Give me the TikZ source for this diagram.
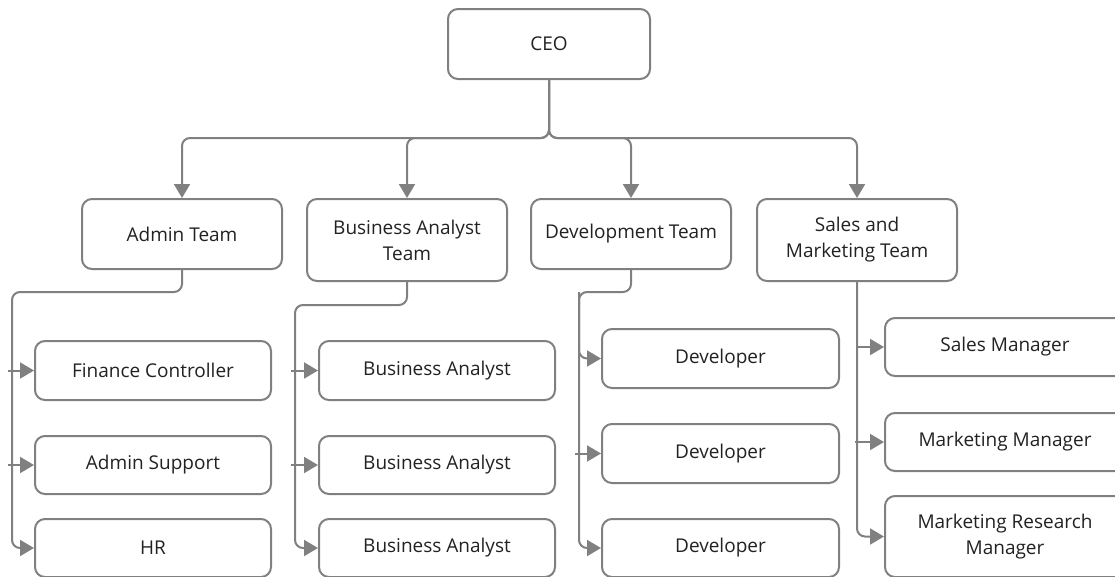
\documentclass[tikz,border=0pt]{standalone}
\usepackage{fontspec}
\setmainfont{Open Sans}
\usetikzlibrary{arrows.meta}
\definecolor{ln}{RGB}{128,128,128}
\definecolor{tx}{RGB}{34,34,34}
\tikzset{
  box/.style={draw=ln, line width=2pt, rounded corners=10pt, fill=white, text=tx,
    font=\fontsize{19}{26}\selectfont, align=center, inner sep=0pt},
  conn/.style={draw=ln, line width=2pt, rounded corners=8pt},
  arr/.style={conn, -{Triangle[length=14pt,width=16pt]}},
}
\begin{document}
\begin{tikzpicture}[x=1pt,y=-1pt]
\useasboundingbox (0,0) rectangle (1115,576);
% top
\node[box, minimum width=202pt, minimum height=70pt] (ceo) at (549,44) {CEO};
\node[box, minimum width=200pt, minimum height=70pt] (admin) at (182,234) {Admin Team};
\node[box, minimum width=200pt, minimum height=82pt] (bat) at (407,240) {Business Analyst\\Team};
\node[box, minimum width=200pt, minimum height=70pt] (dev) at (631,234) {Development Team};
\node[box, minimum width=200pt, minimum height=82pt] (smt) at (857,240) {Sales and\\Marketing Team};
% admin children
\node[box, minimum width=236pt, minimum height=59pt] (fin) at (153,370.5) {Finance Controller};
\node[box, minimum width=236pt, minimum height=58pt] (sup) at (153,465) {Admin Support};
\node[box, minimum width=236pt, minimum height=58pt] (hr) at (153,548) {HR};
% BA children
\node[box, minimum width=236pt, minimum height=59pt] (ba1) at (437,370.5) {Business Analyst};
\node[box, minimum width=236pt, minimum height=58pt] (ba2) at (437,465) {Business Analyst};
\node[box, minimum width=236pt, minimum height=58pt] (ba3) at (437,548) {Business Analyst};
% dev children
\node[box, minimum width=237pt, minimum height=59pt] (d1) at (720.5,358.5) {Developer};
\node[box, minimum width=237pt, minimum height=59pt] (d2) at (720.5,453.5) {Developer};
\node[box, minimum width=237pt, minimum height=58pt] (d3) at (720.5,548) {Developer};
% sales children
\node[box, minimum width=240pt, minimum height=58pt] (sm) at (1005,347) {Sales Manager};
\node[box, minimum width=240pt, minimum height=58pt] (mm) at (1005,442) {Marketing Manager};
\node[box, minimum width=240pt, minimum height=81pt] (mrm) at (1005,536.5) {Marketing Research\\Manager};
% CEO connectors
\coordinate (bus) at (549,138);
\draw[arr] (ceo.south) -- (bus) -| (admin.north);
\draw[arr] (ceo.south) -- (bus) -| (bat.north);
\draw[arr] (ceo.south) -- (bus) -| (dev.north);
\draw[arr] (ceo.south) -- (bus) -| (smt.north);
% admin
\coordinate (a1) at (182,292);
\coordinate (a2) at (12,292);
\draw[arr] (admin.south) -- (a1) -- (a2) |- (hr.west);
\coordinate (af) at (8,370.5);
\coordinate (as) at (8,465);
\draw[arr] (af) -- (fin.west);
\draw[arr] (as) -- (sup.west);
% BA
\coordinate (b1) at (407,305);
\coordinate (b2) at (295,305);
\draw[arr] (bat.south) -- (b1) -- (b2) |- (ba3.west);
\coordinate (bf) at (291,370.5);
\coordinate (bs) at (291,465);
\draw[arr] (bf) -- (ba1.west);
\draw[arr] (bs) -- (ba2.west);
% dev
\coordinate (c1) at (631,292);
\coordinate (c2) at (579,292);
\draw[arr] (dev.south) -- (c1) -- (c2) |- (d3.west);
\draw[arr] (c2) |- (d1.west);
\coordinate (cs) at (575,453.5);
\draw[arr] (cs) -- (d2.west);
% sales
\draw[arr] (smt.south) |- (mrm.west);
\coordinate (sf) at (857,347);
\coordinate (ss) at (855,442);
\draw[arr] (sf) -- (sm.west);
\draw[arr] (ss) -- (mm.west);
\end{tikzpicture}
\end{document}
